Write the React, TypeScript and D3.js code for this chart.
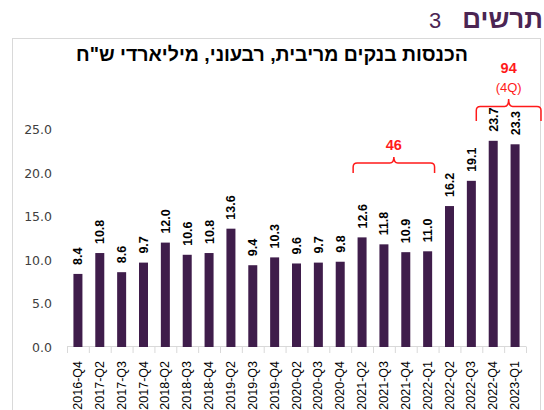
import React from "react";
import * as d3 from "d3";

const categories = [
  "2016-Q4", "2017-Q2", "2017-Q3", "2017-Q4", "2018-Q2", "2018-Q3", "2018-Q4",
  "2019-Q2", "2019-Q3", "2019-Q4", "2020-Q2", "2020-Q3", "2020-Q4", "2021-Q2",
  "2021-Q3", "2021-Q4", "2022-Q1", "2022-Q2", "2022-Q3", "2022-Q4", "2023-Q1",
];
const values = [
  8.4, 10.8, 8.6, 9.7, 12.0, 10.6, 10.8, 13.6, 9.4, 10.3, 9.6, 9.7, 9.8, 12.6,
  11.8, 10.9, 11.0, 16.2, 19.1, 23.7, 23.3,
];
const yTicks = [0, 5, 10, 15, 20, 25];
const titleWord = "תרשים";
const titleNum = "3";
const subtitle = 'הכנסות בנקים מריבית, רבעוני, מיליארדי ש"ח';
const bracket1 = { from: "2021-Q2", to: "2022-Q1", label: "46" };
const bracket2 = { from: "2022-Q4", to: "2023-Q1", label: "94", sub: "(4Q)" };

const W = 544;
const H = 410;
const BAR = "#3f1d4b";
const RED = "#ff1a1a";

function bracePath(x1: number, x2: number, yH: number, yEnd: number, yPeak: number) {
  const xc = (x1 + x2) / 2;
  const r = 4;
  return `M${x1},${yEnd} L${x1},${yH + r} Q${x1},${yH} ${x1 + r},${yH} L${xc - r},${yH} Q${xc},${yH} ${xc},${yPeak} Q${xc},${yH} ${xc + r},${yH} L${x2 - r},${yH} Q${x2},${yH} ${x2},${yH + r} L${x2},${yEnd}`;
}

export default function App() {
  const x = d3.scaleBand<string>().domain(categories).range([67, 526]).paddingInner(0).paddingOuter(0);
  const y = d3.scaleLinear().domain([0, 30]).range([347, 86]);
  const bw = x.bandwidth();
  const barW = 9;

  const b1x1 = (x(bracket1.from) as number) + 2;
  const b1x2 = (x(bracket1.to) as number) + bw - 4;
  const b2x1 = (x(bracket2.from) as number) - 6;
  const b2x2 = (x(bracket2.to) as number) + bw + 15;

  return (
    <svg width={W} height={H} style={{ position: "absolute", left: 0, top: 0, background: "#fff" }}>
      <rect x={12.5} y={38.5} width={528} height={400} fill="#fff" stroke="#d9d9d9" strokeWidth={1} />
      <text x={543} y={28} textAnchor="end" fontFamily="Liberation Sans, Arial, sans-serif" fontWeight="bold" fontSize={26} fill="#4b2553">
        {titleWord}
      </text>
      <text x={429} y={28} textAnchor="start" fontFamily="Liberation Sans, Arial, sans-serif" fontSize={22} fill="#4b2553">
        {titleNum}
      </text>
      <text x={272} y={61} textAnchor="middle" direction="rtl" fontFamily="Liberation Sans, Arial, sans-serif" fontWeight="bold" fontSize={19.5} fill="#000">
        {subtitle}
      </text>

      {yTicks.map((t) => (
        <text key={t} x={52} y={y(t)} dy="0.36em" textAnchor="end" fontFamily="DejaVu Sans, sans-serif" fontSize={12.5} fill="#404040">
          {t.toFixed(1)}
        </text>
      ))}

      <line x1={67} x2={526} y1={346.5} y2={346.5} stroke="#d9d9d9" />
      {categories.map((c) => (
        <line key={"t" + c} x1={(x(c) as number) + 0.5} x2={(x(c) as number) + 0.5} y1={346.5} y2={353} stroke="#d9d9d9" />
      ))}
      <line x1={526.5} x2={526.5} y1={346.5} y2={353} stroke="#d9d9d9" />

      {categories.map((c, i) => {
        const cx = (x(c) as number) + bw / 2;
        return (
          <g key={c}>
            <rect x={cx - barW / 2} y={y(values[i])} width={barW} height={y(0) - y(values[i])} fill={BAR} />
            <text
              transform={`translate(${cx + 0.5},${y(values[i]) - 9}) rotate(-90)`}
              dominantBaseline="central"
              textAnchor="start"
              fontFamily="Liberation Sans, Arial, sans-serif"
              fontWeight="bold"
              fontSize={12.5}
              fill="#000"
            >
              {values[i].toFixed(1)}
            </text>
            <text
              transform={`translate(${cx},361) rotate(-90)`}
              dominantBaseline="central"
              textAnchor="end"
              fontFamily="Liberation Sans, Arial, sans-serif"
              fontSize={12.5}
              fill="#000"
            >
              {c}
            </text>
          </g>
        );
      })}

      <path d={bracePath(b1x1, b1x2, 163, 173, 157)} fill="none" stroke={RED} strokeWidth={1.5} />
      <text x={(b1x1 + b1x2) / 2} y={150} textAnchor="middle" fontFamily="Liberation Sans, Arial, sans-serif" fontWeight="bold" fontSize={14.5} fill={RED}>
        {bracket1.label}
      </text>

      <path d={bracePath(b2x1, b2x2, 106.5, 121, 99)} fill="none" stroke={RED} strokeWidth={1.5} />
      <text x={(b2x1 + b2x2) / 2} y={73} textAnchor="middle" fontFamily="Liberation Sans, Arial, sans-serif" fontWeight="bold" fontSize={14.5} fill={RED}>
        {bracket2.label}
      </text>
      <text x={(b2x1 + b2x2) / 2} y={92} textAnchor="middle" fontFamily="Liberation Sans, Arial, sans-serif" fontSize={13} fill={RED}>
        {bracket2.sub}
      </text>
    </svg>
  );
}
